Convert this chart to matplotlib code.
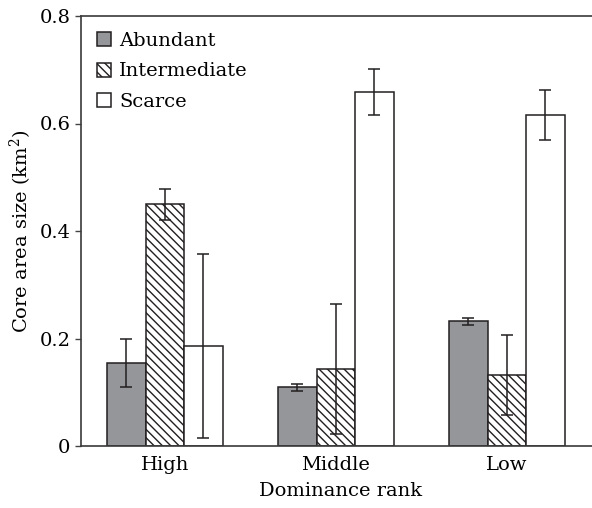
import matplotlib
matplotlib.use("Agg")
import matplotlib.pyplot as plt
import numpy as np

categories = ["High", "Middle", "Low"]
series_names = ["Abundant", "Intermediate", "Scarce"]
abundant = [0.155, 0.109, 0.232]
abundant_err = [0.045, 0.006, 0.006]
intermediate = [0.450, 0.143, 0.132]
intermediate_err = [0.029, 0.121, 0.074]
scarce = [0.186, 0.658, 0.616]
scarce_err = [0.172, 0.043, 0.046]
yticks = [0, 0.2, 0.4, 0.6, 0.8]
ytick_labels = ["0", "0.2", "0.4", "0.6", "0.8"]

plt.rcParams['font.family'] = ['DejaVu Serif']
plt.rcParams['mathtext.fontset'] = 'dejavuserif'
plt.rcParams['hatch.linewidth'] = 1.0
plt.rcParams['hatch.color'] = '#231f20'

dark = '#231f20'
fs = 14

fig = plt.figure(figsize=(5.92, 5.08), dpi=100)
ax = fig.add_axes([81/592, 62/508, 520/592, 430/508])

x = np.arange(len(categories))
w = 0.225
styles = [
    dict(facecolor='#959699', hatch=None),
    dict(facecolor='white', hatch='\\' * 4),
    dict(facecolor='white', hatch=None),
]
vals = [abundant, intermediate, scarce]
errs = [abundant_err, intermediate_err, scarce_err]
for i, (v, e, st, name) in enumerate(zip(vals, errs, styles, series_names)):
    ax.bar(x + (i - 1) * w, v, width=w, facecolor=st['facecolor'], hatch=st['hatch'],
           edgecolor=dark, linewidth=1.1, label=name, zorder=2)
    ax.errorbar(x + (i - 1) * w, v, yerr=e, fmt='none', ecolor=dark, elinewidth=1.1,
                capsize=4.3, capthick=1.1, zorder=3)

ax.set_xlim(-0.49, 2.55)
ax.set_ylim(0, 0.8)
ax.set_yticks(yticks)
ax.set_yticklabels(ytick_labels, fontsize=fs)
ax.set_xticks(x)
ax.set_xticklabels(categories, fontsize=fs)
ax.tick_params(axis='x', length=0, pad=7)
ax.tick_params(axis='y', direction='out', length=4.5, width=1.0, color='#444444', pad=3)
for s in ['top', 'left', 'bottom']:
    ax.spines[s].set_color('#3a3a3a')
    ax.spines[s].set_linewidth(1.2)
ax.spines['right'].set_visible(False)

ax.set_xlabel("Dominance rank", fontsize=fs, labelpad=6)
ax.set_ylabel(r"Core area size (km$^2$)", fontsize=fs, labelpad=4)

ax.legend(loc='upper left', bbox_to_anchor=(0.0, 1.0), frameon=False, fontsize=fs,
          handlelength=0.72, handleheight=0.72, handletextpad=0.45,
          labelspacing=0.66, borderaxespad=0.5, borderpad=0.3)

fig.savefig("out.png", dpi=100)
